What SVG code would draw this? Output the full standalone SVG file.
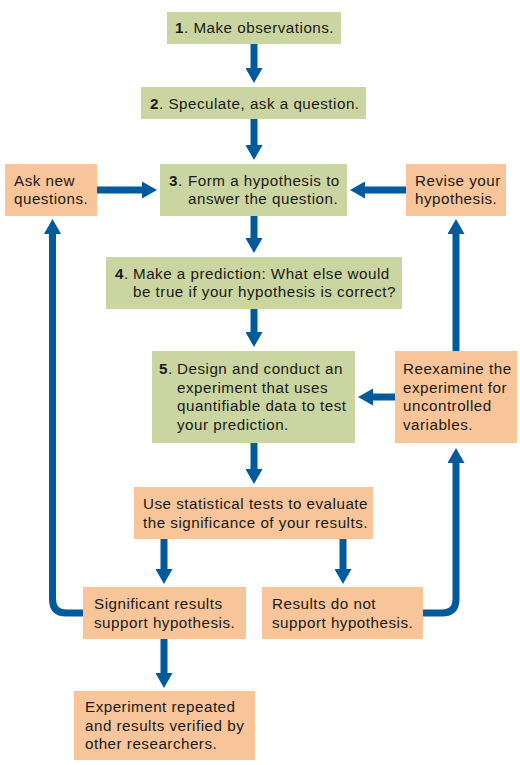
<svg xmlns="http://www.w3.org/2000/svg" width="520" height="765" viewBox="0 0 520 765">
<style>
.g{fill:#cbd5a1}
.o{fill:#f7c599}
text{font-family:"Liberation Sans",Arial,sans-serif;font-size:15.2px;letter-spacing:0.5px;fill:#1a1a1a}
.b{font-weight:bold}
.c{fill:none;stroke:#005a9c;stroke-width:7}
</style>
<defs>
<marker id="ah" markerUnits="userSpaceOnUse" markerWidth="16" markerHeight="17" refX="1" refY="8.5" orient="auto">
<path d="M0,0 L15,8.5 L0,17 z" fill="#005a9c"/>
</marker>
</defs>
<rect width="520" height="765" fill="#fff"/>
<g id="connectors">
<path class="c" d="M254,44 V69" marker-end="url(#ah)"/>
<path class="c" d="M254,119 V146" marker-end="url(#ah)"/>
<path class="c" d="M97,190 H143" marker-end="url(#ah)"/>
<path class="c" d="M406,190 H364" marker-end="url(#ah)"/>
<path class="c" d="M254,216 V239" marker-end="url(#ah)"/>
<path class="c" d="M254,309 V333" marker-end="url(#ah)"/>
<path class="c" d="M395,397 H372" marker-end="url(#ah)"/>
<path class="c" d="M456,351 V233" marker-end="url(#ah)"/>
<path class="c" d="M254,443 V470" marker-end="url(#ah)"/>
<path class="c" d="M164,539 V570" marker-end="url(#ah)"/>
<path class="c" d="M343,539 V570" marker-end="url(#ah)"/>
<path class="c" d="M83,613 H66 Q52.5,613 52.5,599 V233" marker-end="url(#ah)"/>
<path class="c" d="M423,613 H442 Q456,613 456,599 V462" marker-end="url(#ah)"/>
<path class="c" d="M164,639 V674" marker-end="url(#ah)"/>
</g>
<g id="n1"><rect class="g" x="167" y="12" width="174" height="32"/><text x="175" y="33"><tspan class="b">1</tspan>. Make observations.</text></g>
<g id="n2"><rect class="g" x="141" y="87" width="225" height="32"/><text x="150" y="109"><tspan class="b">2</tspan>. Speculate, ask a question.</text></g>
<g id="n3"><rect class="g" x="160" y="164" width="187" height="52"/><text x="169" y="185.5"><tspan class="b">3</tspan>.</text><text x="188" y="185.5">Form a hypothesis to</text><text x="188" y="203.5">answer the question.</text></g>
<g id="nAsk"><rect class="o" x="5" y="164" width="92" height="52"/><text x="14" y="185.5">Ask new</text><text x="14" y="203.5">questions.</text></g>
<g id="nRevise"><rect class="o" x="406" y="164" width="100" height="52"/><text x="415" y="185.5">Revise your</text><text x="415" y="203.5">hypothesis.</text></g>
<g id="n4"><rect class="g" x="106" y="257" width="296" height="52"/><text x="115" y="278.5"><tspan class="b">4</tspan>.</text><text x="133" y="278.5">Make a prediction: What else would</text><text x="133" y="297">be true if your hypothesis is correct?</text></g>
<g id="n5"><rect class="g" x="152" y="351" width="203" height="92"/><text x="159" y="374"><tspan class="b">5</tspan>.</text><text x="177" y="374">Design and conduct an</text><text x="177" y="392.7">experiment that uses</text><text x="177" y="411.4">quantifiable data to test</text><text x="177" y="430">your prediction.</text></g>
<g id="nReexamine"><rect class="o" x="395" y="351" width="122" height="92"/><text x="403" y="374">Reexamine the</text><text x="403" y="392.7">experiment for</text><text x="403" y="411.4">uncontrolled</text><text x="403" y="430">variables.</text></g>
<g id="nStats"><rect class="o" x="134" y="487" width="239" height="52"/><text x="143" y="509">Use statistical tests to evaluate</text><text x="143" y="528">the significance of your results.</text></g>
<g id="nSig"><rect class="o" x="83" y="587" width="163" height="52"/><text x="94" y="609">Significant results</text><text x="94" y="628">support hypothesis.</text></g>
<g id="nNot"><rect class="o" x="262" y="587" width="161" height="52"/><text x="272" y="609">Results do not</text><text x="272" y="628">support hypothesis.</text></g>
<g id="nRepeat"><rect class="o" x="74" y="691" width="181" height="69"/><text x="85" y="712">Experiment repeated</text><text x="85" y="731">and results verified by</text><text x="85" y="749">other researchers.</text></g>
</svg>
